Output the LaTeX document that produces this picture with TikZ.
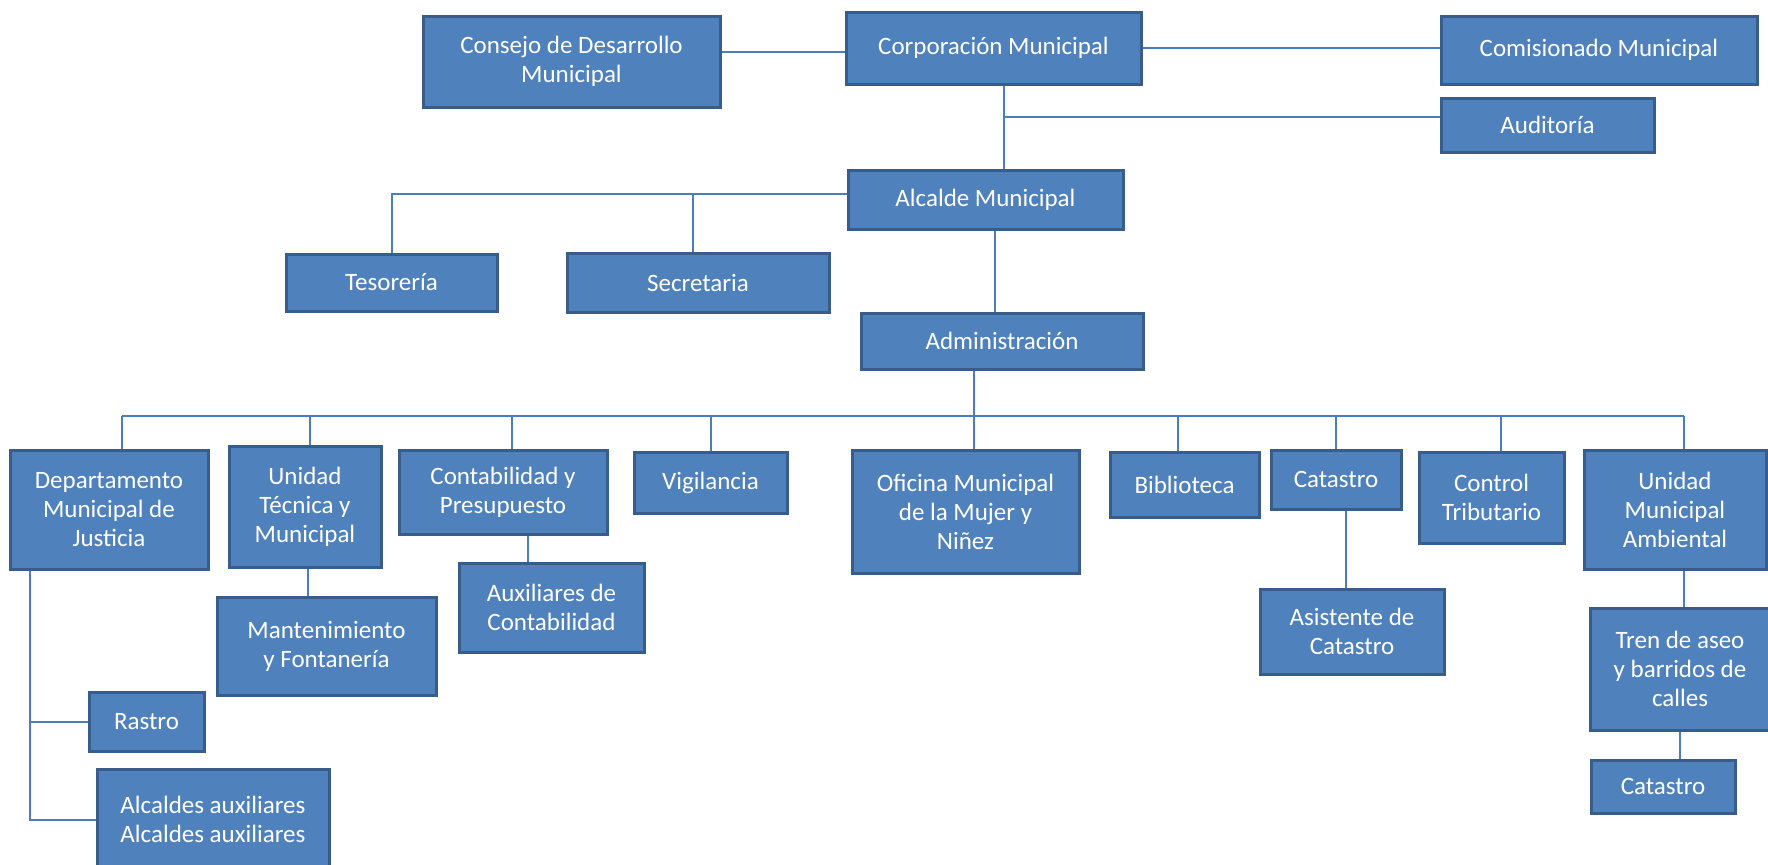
\documentclass[tikz,border=0pt]{standalone}
\usepackage{fontspec}
\setmainfont{Carlito}
\usepackage{tikz}

\definecolor{boxfill}{RGB}{79,129,189}
\definecolor{boxline}{RGB}{56,93,138}
\definecolor{linkcol}{RGB}{74,126,187}

\begin{document}
\begin{tikzpicture}[x = 0.5pt, y = -0.5pt,
    every node/.style = {shape = rectangle, draw = boxline, fill = boxfill, line width = 1.5pt,
        text = white, align = center, inner sep = 0pt,
        font = \fontsize{12.5}{14.5}\selectfont},
    link/.style = {draw = linkcol, line width = 1pt}]
    \useasboundingbox (0,0) rectangle (1768,864);

    % top part
    \node[minimum width = 148.5pt, minimum height = 45.5pt] (consejo) at (571.5,61.5) {Consejo de Desarrollo\\Municipal};
    \node[minimum width = 147.5pt, minimum height = 36pt] (corp) at (993.5,48) {Corporación Municipal};
    \node[minimum width = 158pt, minimum height = 34pt] (comis) at (1599,50) {Comisionado Municipal};
    \node[minimum width = 106.5pt, minimum height = 27pt] (audit) at (1547.5,125) {Auditoría};
    \node[minimum width = 137.5pt, minimum height = 29.5pt] (alcalde) at (985.5,199.5) {Alcalde Municipal};
    \node[minimum width = 105.5pt, minimum height = 28.5pt] (teso) at (391.5,282.5) {Tesorería};
    \node[minimum width = 131pt, minimum height = 29.5pt] (secre) at (698,282.5) {Secretaria};
    \node[minimum width = 141pt, minimum height = 28pt] (admin) at (1002,341) {Administración};

    % departments
    \node[minimum width = 99pt, minimum height = 59.5pt] (dept) at (109,509.5) {Departamento\\Municipal de\\Justicia};
    \node[minimum width = 76pt, minimum height = 60.5pt] (ut) at (305,506.5) {Unidad\\Técnica y\\Municipal};
    \node[minimum width = 104pt, minimum height = 42pt] (contab) at (503,492) {Contabilidad y\\Presupuesto};
    \node[minimum width = 76.5pt, minimum height = 30.5pt] (vigil) at (710.5,482.5) {Vigilancia};
    \node[minimum width = 113.5pt, minimum height = 61.5pt] (oficina) at (965.5,511.5) {Oficina Municipal\\de la Mujer y\\Niñez};
    \node[minimum width = 74.5pt, minimum height = 32.5pt] (biblio) at (1184.5,484.5) {Biblioteca};
    \node[minimum width = 65pt, minimum height = 29.5pt] (cat) at (1336,479.5) {Catastro};
    \node[minimum width = 72.5pt, minimum height = 45.5pt] (control) at (1491.5,497.5) {Control\\Tributario};
    \node[minimum width = 91pt, minimum height = 59.5pt] (uma) at (1675,509.5) {Unidad\\Municipal\\Ambiental};

    % lower units
    \node[minimum width = 109.5pt, minimum height = 49pt] (mant) at (326.5,646) {Mantenimiento\\y Fontanería};
    \node[minimum width = 92.5pt, minimum height = 44.5pt] (aux) at (551.5,607.5) {Auxiliares de\\Contabilidad};
    \node[minimum width = 92pt, minimum height = 42.5pt] (asist) at (1352,631.5) {Asistente de\\Catastro};
    \node[minimum width = 90pt, minimum height = 61pt] (tren) at (1680,669) {Tren de aseo\\y barridos de\\calles};
    \node[minimum width = 72pt, minimum height = 26.5pt] (cat2) at (1663,786.5) {Catastro};
    \node[minimum width = 57.5pt, minimum height = 29.5pt] (rastro) at (146.5,721.5) {Rastro};
    \node[minimum width = 116pt, minimum height = 50.5pt] (alcaux) at (213,819.5) {Alcaldes auxiliares\\Alcaldes auxiliares};

    % connectors
    \draw[link] ([yshift = -2pt]corp.west -| consejo.east) -- ([yshift = -2pt]corp.west);
    \draw[link] (corp.east) -- (corp.east -| comis.west);
    \draw[link] ([xshift = 5pt]corp.south) -- ([xshift = 5pt]corp.south |- alcalde.north);
    \draw[link] ([xshift = 5pt, yshift = 4pt]corp.south |- audit.west) -- ([yshift = 4pt]audit.west);
    \draw[link] (teso.north) -- ([yshift = 3pt]teso.north |- alcalde.west) -- ([yshift = 3pt]alcalde.west);
    \draw[link] ([xshift = -2.5pt]secre.north) -- ([xshift = -2.5pt, yshift = 3pt]secre.north |- alcalde.west);
    \draw[link] ([xshift = 4.75pt]alcalde.south) -- ([xshift = 4.75pt]alcalde.south |- admin.north);
    \draw[link] ([xshift = 4.25pt]oficina.north |- admin.south) -- ([xshift = 4.25pt]oficina.north);

    \coordinate (bus) at (0,416);
    \draw[link] ([xshift = 6.5pt]dept.north |- bus) -- ([xshift = 4.5pt]uma.north |- bus);
    \foreach \n/\s in {dept/6.5, ut/2.5, contab/4.5, vigil/0, biblio/-3.25, cat/0, control/4.75, uma/4.5}
        \draw[link] ([xshift = \s pt]\n.north |- bus) -- ([xshift = \s pt]\n.north);

    \draw[link] ([xshift = 1.5pt]ut.south) -- ([xshift = 1.5pt]ut.south |- mant.north);
    \draw[link] ([xshift = 12.5pt]contab.south) -- ([xshift = 12.5pt]contab.south |- aux.north);
    \draw[link] ([xshift = 5pt]cat.south) -- ([xshift = 5pt]cat.south |- asist.north);
    \draw[link] ([xshift = 4.5pt]uma.south) -- ([xshift = 4.5pt]uma.south |- tren.north);
    \draw[link] (tren.south) -- (tren.south |- cat2.north);

    \coordinate (djust) at ([xshift = -39.5pt]dept.south);
    \draw[link] (djust) -- (djust |- alcaux.west) -- (alcaux.west);
    \draw[link] (djust |- rastro.west) -- (rastro.west);
\end{tikzpicture}
\end{document}
